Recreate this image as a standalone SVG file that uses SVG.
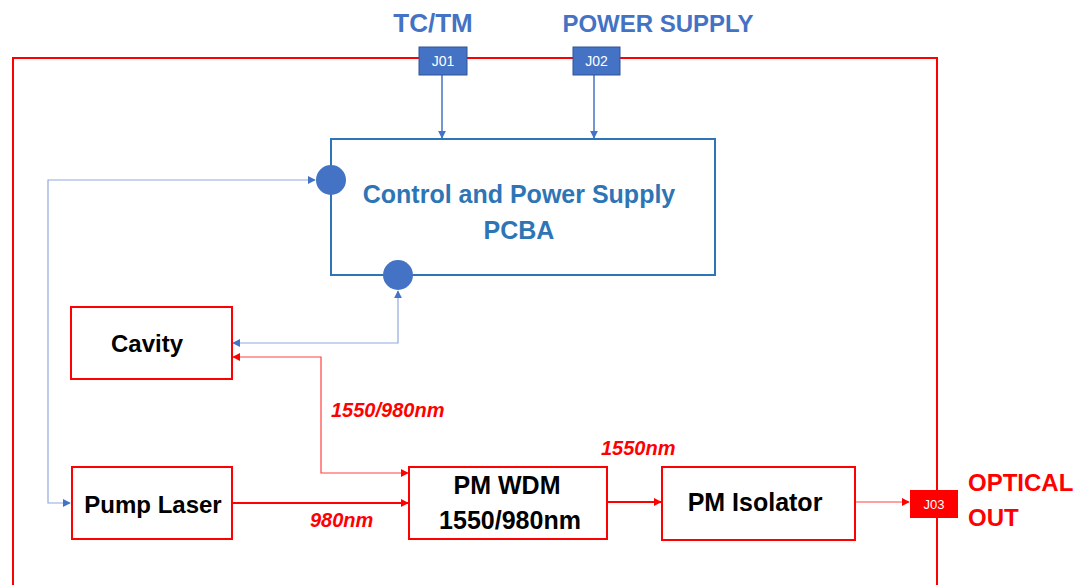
<svg xmlns="http://www.w3.org/2000/svg" width="1075" height="585" viewBox="0 0 1075 585">
  <style>
    .lbl{font-family:"Liberation Sans",Arial,sans-serif;font-weight:bold;text-anchor:middle}
    .blk{fill:#000;font-size:24px}
    .box{fill:#fff;stroke:#ff0000;stroke-width:2}
    .wl{font-family:"Liberation Sans",Arial,sans-serif;font-weight:bold;font-style:italic;fill:#ff0000;font-size:20px}
    .top{fill:#4472c4;font-size:24px}
    .jt{font-family:"Liberation Sans",Arial,sans-serif;fill:#fff;text-anchor:middle}
    .bthin{fill:none;stroke:#8faadc;stroke-width:1.2}
    .bmed{fill:none;stroke:#4472c4;stroke-width:1.5}
    .rthin{fill:none;stroke:#ff4040;stroke-width:1.2}
    .rthick{fill:none;stroke:#ff0000;stroke-width:2}
  </style>
  <defs>
    <marker id="ab" viewBox="0 0 10 10" refX="9" refY="5" markerWidth="8" markerHeight="8" markerUnits="userSpaceOnUse" orient="auto-start-reverse">
      <path d="M0,0 L10,5 L0,10 z" fill="#4472c4"/>
    </marker>
    <marker id="ar" viewBox="0 0 10 10" refX="9" refY="5" markerWidth="8" markerHeight="8" markerUnits="userSpaceOnUse" orient="auto-start-reverse">
      <path d="M0,0 L10,5 L0,10 z" fill="#ff0000"/>
    </marker>
  </defs>

  <g id="frame">
    <rect x="13" y="58" width="924" height="560" fill="none" stroke="#ff0000" stroke-width="2"/>
  </g>

  <g id="label-tctm">
    <text class="lbl top" x="433" y="32" style="font-size:26px">TC/TM</text>
  </g>
  <g id="label-power">
    <text class="lbl top" x="658" y="32">POWER SUPPLY</text>
  </g>

  <g id="connectors">
    <line class="bmed" x1="442" y1="75" x2="442" y2="138" marker-end="url(#ab)"/>
    <line class="bmed" x1="594" y1="75" x2="594" y2="138" marker-end="url(#ab)"/>
    <polyline class="bthin" points="315,180 48,180 48,503 70,503" marker-start="url(#ab)" marker-end="url(#ab)"/>
    <polyline class="bthin" points="398,291 398,343 233,343" marker-start="url(#ab)" marker-end="url(#ab)"/>
    <polyline class="rthin" points="233,357 321,357 321,473 408,473" marker-start="url(#ar)" marker-end="url(#ar)"/>
    <line class="rthick" x1="232" y1="503" x2="408" y2="503" marker-end="url(#ar)"/>
    <line class="rthick" x1="607" y1="502" x2="661" y2="502" marker-end="url(#ar)"/>
    <line class="rthin" x1="855" y1="502" x2="909" y2="502" marker-end="url(#ar)"/>
  </g>

  <g id="J01">
    <rect x="419" y="47" width="48" height="28" fill="#4472c4" stroke="#2f5597" stroke-width="1"/>
    <text class="jt" x="443" y="66" font-size="14">J01</text>
  </g>
  <g id="J02">
    <rect x="573" y="47" width="47" height="28" fill="#4472c4" stroke="#2f5597" stroke-width="1"/>
    <text class="jt" x="596.5" y="66" font-size="14">J02</text>
  </g>

  <g id="pcba">
    <rect x="331" y="139" width="384" height="136" fill="none" stroke="#2e75b6" stroke-width="2"/>
    <circle cx="331" cy="180" r="15" fill="#4472c4"/>
    <circle cx="398" cy="275" r="15" fill="#4472c4"/>
    <text class="lbl" x="519" y="203" fill="#2e75b6" font-size="25">Control and Power Supply</text>
    <text class="lbl" x="519" y="239" fill="#2e75b6" font-size="25">PCBA</text>
  </g>

  <g id="cavity">
    <rect class="box" x="71" y="307" width="161" height="72"/>
    <text class="lbl blk" x="147" y="352">Cavity</text>
  </g>

  <g id="pump-laser">
    <rect class="box" x="72" y="467" width="160" height="72"/>
    <text class="lbl blk" x="153" y="513">Pump Laser</text>
  </g>

  <g id="pm-wdm">
    <rect class="box" x="409" y="467" width="198" height="72"/>
    <text class="lbl blk" x="507" y="494" style="font-size:25px">PM WDM</text>
    <text class="lbl blk" x="510" y="529" style="font-size:25px">1550/980nm</text>
  </g>

  <g id="pm-isolator">
    <rect class="box" x="662" y="467" width="193" height="73"/>
    <text class="lbl blk" x="755" y="511" style="font-size:25px">PM Isolator</text>
  </g>

  <g id="J03">
    <rect x="910" y="490" width="48" height="28" fill="#ff0000"/>
    <text class="jt" x="934" y="509" font-size="13">J03</text>
  </g>

  <g id="labels">
    <text class="wl" x="331" y="417">1550/980nm</text>
    <text class="wl" x="601" y="455">1550nm</text>
    <text class="wl" x="310" y="527">980nm</text>
    <text x="968" y="491" font-family="Liberation Sans,Arial,sans-serif" font-weight="bold" font-size="24" fill="#ff0000">OPTICAL</text>
    <text x="968" y="526" font-family="Liberation Sans,Arial,sans-serif" font-weight="bold" font-size="24" fill="#ff0000">OUT</text>
  </g>
</svg>
